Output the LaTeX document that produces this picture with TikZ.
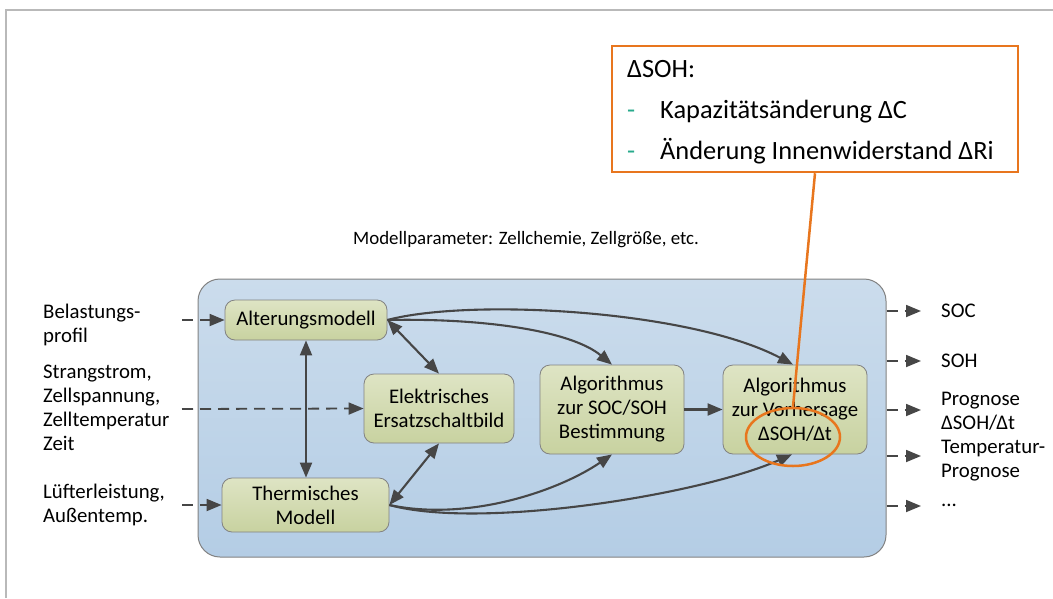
\documentclass[tikz,border=0pt]{standalone}
\usepackage{fontspec}
\setmainfont{Carlito}
\usetikzlibrary{arrows.meta,shapes.geometric,calc}
\definecolor{arrcol}{RGB}{70,70,70}
\definecolor{boxline}{RGB}{130,130,130}
\definecolor{orng}{RGB}{232,118,30}
\definecolor{teal2}{RGB}{40,170,140}
\definecolor{greentop}{RGB}{222,228,196}
\definecolor{greenbot}{RGB}{200,210,160}
\definecolor{bluetop}{RGB}{203,220,236}
\definecolor{bluebot}{RGB}{180,205,229}
\tikzset{
  txt/.style={font=\fontsize{20.8}{24}\selectfont, inner sep=0pt, align=left, text=black},
  bigtxt/.style={font=\fontsize{26.4}{30}\selectfont, inner sep=0pt, text=black},
  gbox/.style={draw=boxline, line width=0.8pt, rounded corners=10pt, top color=greentop, bottom color=greenbot,
    font=\fontsize{20.8}{24}\selectfont, align=center, inner sep=0pt},
  sysbox/.style={draw=boxline, line width=1pt, rounded corners=22pt, top color=bluetop, bottom color=bluebot,
    minimum width=688pt, minimum height=278pt, inner sep=0pt},
  arr/.style={draw=arrcol, line width=2.1pt, -{Triangle[length=15pt,width=12pt]}},
  darr/.style={draw=arrcol, line width=2.1pt, {Triangle[length=15pt,width=12pt]}-{Triangle[length=15pt,width=12pt]}},
  dasharr/.style={draw=arrcol, line width=1.8pt, dash pattern=on 11pt off 7pt, -{Triangle[length=15pt,width=12pt]}},
}
\begin{document}
\begin{tikzpicture}[x=1pt,y=-1pt]
\useasboundingbox (0,0) rectangle (1053,598);
% frame
\draw[gray!55, line width=1.5pt] (6,598) -- (6,10) -- (1053,10);

% system box
\node[sysbox] (sys) at (542,418) {};

% blocks
\node[gbox, minimum width=162pt, minimum height=40pt] (alt) at (306,320) {Alterungsmodell};
\node[gbox, minimum width=167pt, minimum height=54pt] (therm) at (305.5,505) {Thermisches\\Modell};
\node[gbox, minimum width=150pt, minimum height=69pt] (elek) at (439,408.5) {Elektrisches\\Ersatzschaltbild};
\node[gbox, minimum width=144pt, minimum height=89pt] (soc) at (612,409.5) {Algorithmus\\zur SOC/SOH\\Bestimmung};
\node[gbox, minimum width=144pt, minimum height=89pt] (vor) at (795,409.5) {Algorithmus\\zur Vorhersage\\ΔSOH/Δt};

% model parameter text
\node[txt, font=\fontsize{18.9}{22}\selectfont, anchor=west] (param) at (353,240) {Modellparameter: Zellchemie, Zellgröße, etc.};

% input labels
\node[txt, anchor=west] (in1) at (43,325) {Belastungs-\\profil};
\node[txt, anchor=west] (in2) at (43,408) {Strangstrom,\\Zellspannung,\\Zelltemperatur\\Zeit};
\node[txt, anchor=west] (in3) at (43,505) {Lüfterleistung,\\Außentemp.};

% input arrows
\coordinate (i1) at (182,320);
\coordinate (i2) at (182,409);
\coordinate (i3) at (182,505);
\draw[dasharr] (i1) -- (alt.west);
\draw[dasharr] (i2) -- (elek.west);
\draw[dasharr] (i3) -- (therm.west);

% output arrows and labels
\coordinate (o1) at (921,311);
\coordinate (o2) at (921,361);
\coordinate (o3) at (921,410);
\coordinate (o4) at (921,456);
\coordinate (o5) at (921,506);
\foreach \o in {o1,o2,o3,o4,o5}{
  \draw[dasharr] (\o -| sys.east) -- (\o);
}
\node[txt, anchor=west] (out1) at (941,311) {SOC};
\node[txt, anchor=west] (out2) at (941,361) {SOH};
\node[txt, anchor=west] (out3) at (941,411) {Prognose\\ΔSOH/Δt};
\node[txt, anchor=west] (out4) at (941,461) {Temperatur-\\Prognose};
\node[txt, anchor=west] (out5) at (941,505) {...};

% internal connections
\draw[darr] (alt.south) -- (alt.south |- therm.north);
\draw[darr] (alt.east) -- (elek.north);
\draw[darr] (elek.south) -- (therm.east);
\draw[arr] (soc.east) -- (vor.west);
\draw[arr] (alt.east) .. controls (480,318) and (570,330) .. (soc.north);
\draw[arr] (alt.east) .. controls (470,298) and (690,310) .. ([xshift=-2pt]vor.north);
\draw[arr] (therm.east) .. controls (470,522) and (560,490) .. (soc.south);
\draw[arr] (therm.east) .. controls (480,530) and (700,495) .. ([xshift=-3pt]vor.south);

% callout
\node[draw=orng, line width=2.5pt, fill=white, minimum width=406pt, minimum height=126pt, inner sep=0pt] (callout) at (815,109) {};
\node[bigtxt, anchor=base west] (c0) at (627,77) {ΔSOH:};
\node[bigtxt, anchor=base west, text=teal2] (d1) at (627,118) {-};
\node[bigtxt, anchor=base west] (c1) at (660,118) {Kapazitätsänderung ΔC};
\node[bigtxt, anchor=base west, text=teal2] (d2) at (627,159) {-};
\node[bigtxt, anchor=base west] (c2) at (660,159) {Änderung Innenwiderstand ΔRi};
\node[draw=orng, line width=2.5pt, ellipse, minimum width=94pt, minimum height=58pt, inner sep=0pt] (ell) at (793,437) {};
\draw[orng, line width=2.5pt] (callout.south) -- (ell.north);
\end{tikzpicture}
\end{document}
